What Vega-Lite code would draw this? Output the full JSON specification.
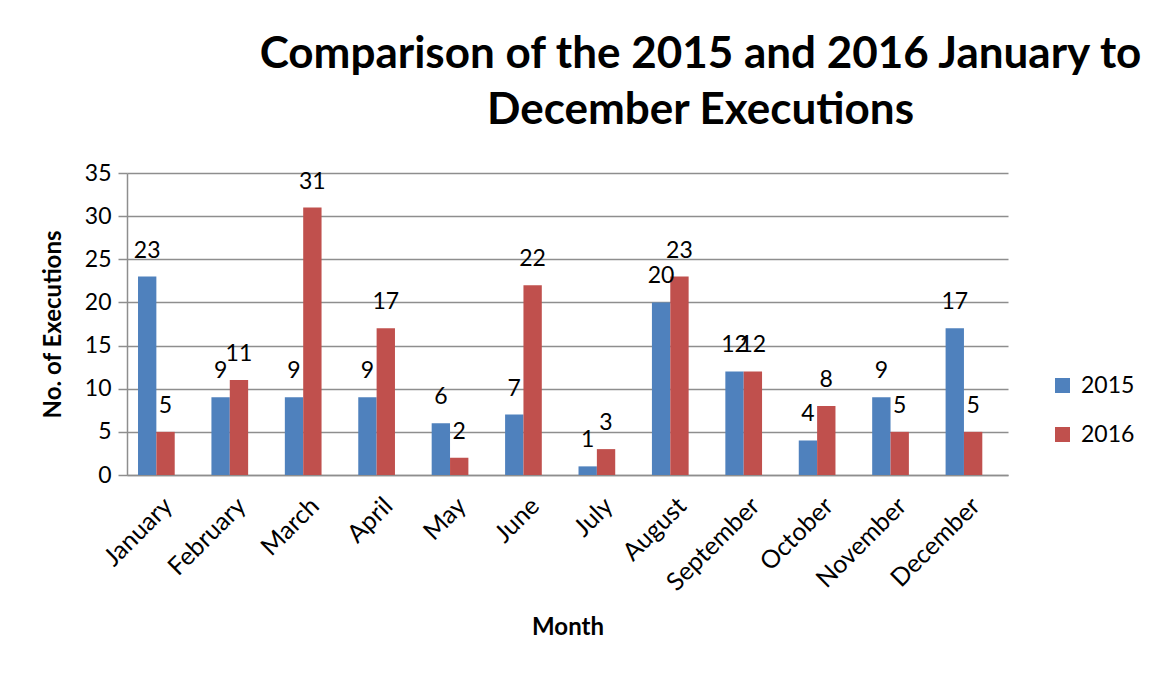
{
  "$schema": "https://vega.github.io/schema/vega-lite/v6.json",
  "width": 881,
  "height": 302,
  "autosize": {"type": "none"},
  "padding": {"left": 127, "top": 173, "right": 146, "bottom": 199},
  "background": "white",
  "config": {
    "font": "Lato",
    "view": {"stroke": null},
    "axis": {"labelFont": "Lato", "titleFont": "Lato", "labelColor": "black", "titleColor": "black"}
  },
  "title": {
    "text": ["Comparison of the 2015 and 2016 January to", "December Executions"],
    "font": "Lato",
    "fontSize": 44,
    "fontWeight": "bold",
    "color": "black",
    "anchor": "middle",
    "dx": 133,
    "offset": 29,
    "lineHeight": 56
  },
  "data": {
    "values": [
      {"month": "January", "year": "2015", "count": 23},
      {"month": "January", "year": "2016", "count": 5},
      {"month": "February", "year": "2015", "count": 9},
      {"month": "February", "year": "2016", "count": 11},
      {"month": "March", "year": "2015", "count": 9},
      {"month": "March", "year": "2016", "count": 31},
      {"month": "April", "year": "2015", "count": 9},
      {"month": "April", "year": "2016", "count": 17},
      {"month": "May", "year": "2015", "count": 6},
      {"month": "May", "year": "2016", "count": 2},
      {"month": "June", "year": "2015", "count": 7},
      {"month": "June", "year": "2016", "count": 22},
      {"month": "July", "year": "2015", "count": 1},
      {"month": "July", "year": "2016", "count": 3},
      {"month": "August", "year": "2015", "count": 20},
      {"month": "August", "year": "2016", "count": 23},
      {"month": "September", "year": "2015", "count": 12},
      {"month": "September", "year": "2016", "count": 12},
      {"month": "October", "year": "2015", "count": 4},
      {"month": "October", "year": "2016", "count": 8},
      {"month": "November", "year": "2015", "count": 9},
      {"month": "November", "year": "2016", "count": 5},
      {"month": "December", "year": "2015", "count": 17},
      {"month": "December", "year": "2016", "count": 5}
    ]
  },
  "encoding": {
    "x": {
      "field": "month",
      "type": "nominal",
      "sort": null,
      "scale": {"paddingInner": 0, "paddingOuter": 0},
      "axis": {
        "title": "Month",
        "titleFontSize": 24,
        "titleFontWeight": "bold",
        "titlePadding": 20,
        "labelFontSize": 25,
        "labelAngle": -45,
        "labelPadding": 18,
        "labelOffset": -4,
        "ticks": false,
        "domainColor": "#8e8e8e",
        "domainWidth": 1.5,
        "grid": false
      }
    },
    "xOffset": {
      "field": "year",
      "type": "nominal",
      "scale": {"paddingInner": 0, "paddingOuter": 1.25, "align": 0.3}
    },
    "y": {
      "field": "count",
      "type": "quantitative",
      "scale": {"domain": [0, 35], "nice": false},
      "axis": {
        "title": "No. of Executions",
        "titleFontSize": 24,
        "titleFontWeight": "bold",
        "titlePadding": 19,
        "labelFontSize": 23,
        "labelPadding": 7,
        "values": [0, 5, 10, 15, 20, 25, 30, 35],
        "tickSize": 9,
        "tickColor": "#8e8e8e",
        "tickWidth": 1.5,
        "domainColor": "#8e8e8e",
        "domainWidth": 1.5,
        "gridColor": "#8e8e8e",
        "gridWidth": 1.5
      }
    }
  },
  "layer": [
    {
      "mark": {"type": "bar"},
      "encoding": {
        "color": {
          "field": "year",
          "type": "nominal",
          "scale": {"domain": ["2015", "2016"], "range": ["#4F81BD", "#C0504D"]},
          "legend": {
            "title": null,
            "orient": "none",
            "legendX": 924,
            "legendY": 201,
            "symbolType": "square",
            "symbolSize": 225,
            "symbolStrokeWidth": 0,
            "labelFontSize": 23,
            "labelFont": "Lato",
            "labelColor": "black",
            "labelOffset": 7,
            "rowPadding": 25
          }
        }
      }
    },
    {
      "mark": {"type": "text", "fontSize": 23, "color": "black", "baseline": "alphabetic", "dy": -19, "font": "Lato"},
      "encoding": {"text": {"field": "count", "type": "quantitative"}}
    }
  ]
}
